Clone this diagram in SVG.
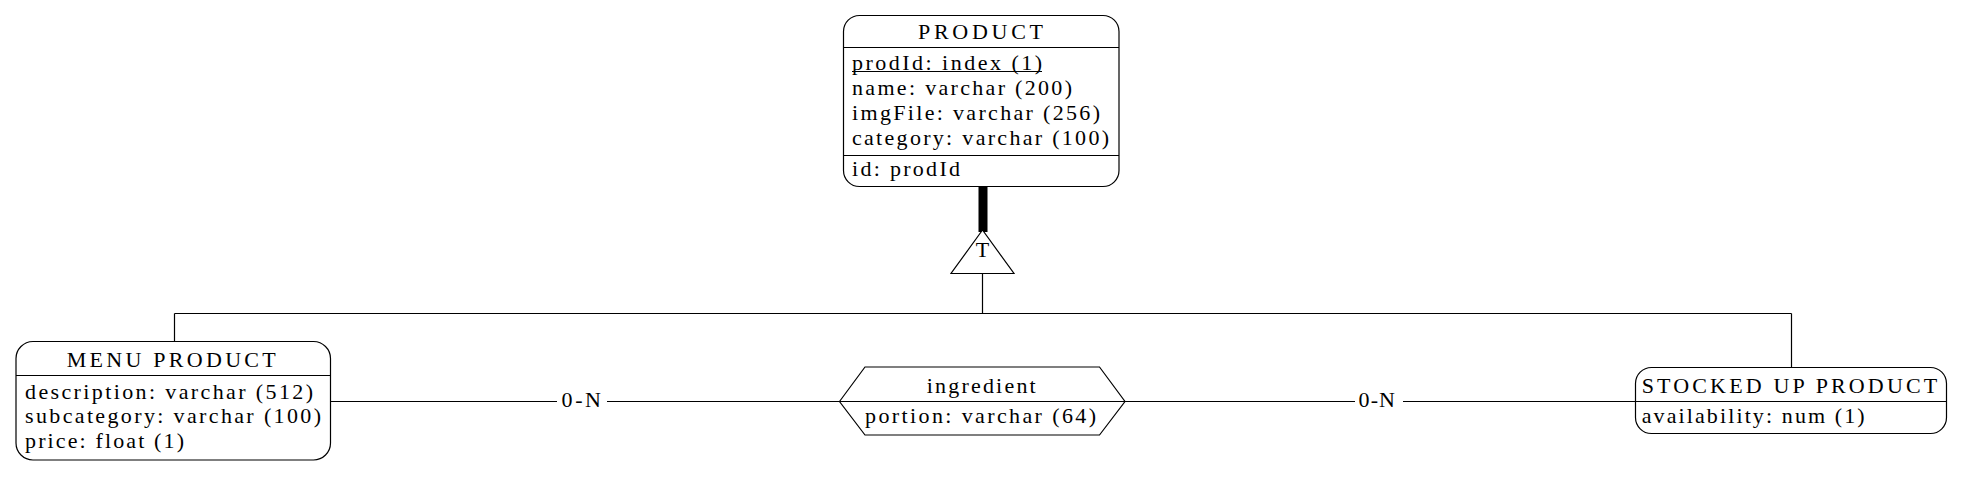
<svg xmlns="http://www.w3.org/2000/svg" width="1963" height="490" viewBox="0 0 1963 490">
<style>
text{font-family:"Liberation Serif","Times New Roman",serif;font-size:22px;fill:#000}
.box{fill:#fff;stroke:#000;stroke-width:1.2}
.ln{stroke:#000;stroke-width:1.2;fill:none}
.c{text-anchor:middle}
</style>
<rect width="1963" height="490" fill="#fff"/>
<g id="connectors">
<rect x="978.5" y="186" width="9" height="46" fill="#000"/>
<path class="ln" d="M982.5,273.5V313.5M174.5,313.5H1791.5M174.5,313.5V341.5M1791.5,313.5V367.5"/>
<path class="ln" d="M331,401.5H557M607,401.5H839.5M1125,401.5H1355M1403,401.5H1635.5"/>
<text x="561.5" y="407" textLength="39.5" lengthAdjust="spacing">0-N</text>
<text x="1358.5" y="407" textLength="36.5" lengthAdjust="spacing">0-N</text>
</g>
<g id="isa">
<polygon class="box" points="982.5,230 951,273.5 1014,273.5"/>
<text class="c" x="982.5" y="257" font-size="21">T</text>
</g>
<g id="product">
<rect class="box" x="843.5" y="15.5" width="275.5" height="171" rx="16"/>
<path class="ln" d="M843.5,47.5H1119M843.5,155.5H1119"/>
<text x="918" y="39" textLength="125" lengthAdjust="spacing">PRODUCT</text>
<text x="852" y="69.5" textLength="190" lengthAdjust="spacing">prodId: index (1)</text>
<path class="ln" d="M852,71.5H1042"/>
<text x="852" y="94.5" textLength="220" lengthAdjust="spacing">name: varchar (200)</text>
<text x="852" y="119.5" textLength="248" lengthAdjust="spacing">imgFile: varchar (256)</text>
<text x="852" y="144.5" textLength="257" lengthAdjust="spacing">category: varchar (100)</text>
<text x="852" y="176" textLength="108" lengthAdjust="spacing">id: prodId</text>
</g>
<g id="menu-product">
<rect class="box" x="16" y="341.5" width="314.5" height="118.5" rx="17"/>
<path class="ln" d="M16,375.5H330.5"/>
<text x="66.7" y="366.5" textLength="209" lengthAdjust="spacing">MENU PRODUCT</text>
<text x="25" y="398.5" textLength="288" lengthAdjust="spacing">description: varchar (512)</text>
<text x="25" y="422.5" textLength="296" lengthAdjust="spacing">subcategory: varchar (100)</text>
<text x="25" y="448" textLength="159" lengthAdjust="spacing">price: float (1)</text>
</g>
<g id="ingredient">
<polygon class="box" points="839.5,401.5 865,367 1099.5,367 1125,401.5 1099.5,435 865,435"/>
<path class="ln" d="M839.5,401.5H1125"/>
<text x="926.7" y="392.5" textLength="109" lengthAdjust="spacing">ingredient</text>
<text x="865" y="422.5" textLength="231" lengthAdjust="spacing">portion: varchar (64)</text>
</g>
<g id="stocked-up-product">
<rect class="box" x="1635.5" y="367.5" width="311" height="66" rx="16"/>
<path class="ln" d="M1635.5,401.5H1946.5"/>
<text x="1641.7" y="392.5" textLength="295.5" lengthAdjust="spacing">STOCKED UP PRODUCT</text>
<text x="1641.7" y="422.5" textLength="223" lengthAdjust="spacing">availability: num (1)</text>
</g>
</svg>
